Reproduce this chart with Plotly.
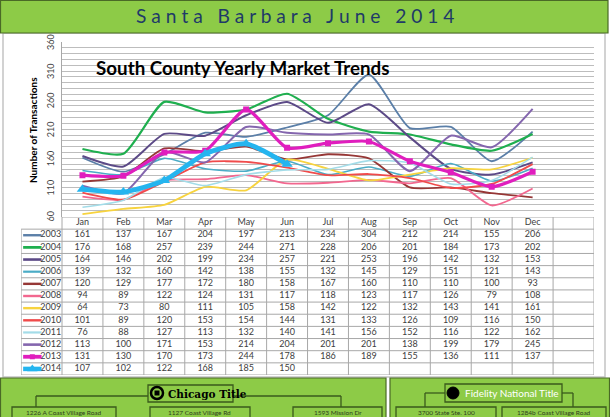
import plotly.graph_objects as go

W, H = 610, 417
def X(px): return px / W
def Y(py): return 1 - py / H

# ---------------- data ----------------
months = ["Jan", "Feb", "Mar", "Apr", "May", "Jun", "Jul", "Aug", "Sep", "Oct", "Nov", "Dec"]
years = ["2003", "2004", "2005", "2006", "2007", "2008", "2009", "2010", "2011", "2012", "2013", "2014"]
v2003 = [161, 137, 167, 204, 197, 213, 234, 304, 212, 214, 155, 206]
v2004 = [176, 168, 257, 239, 244, 271, 228, 206, 201, 184, 173, 202]
v2005 = [164, 146, 202, 199, 234, 257, 221, 253, 196, 142, 132, 153]
v2006 = [139, 132, 160, 142, 138, 155, 132, 145, 129, 151, 121, 143]
v2007 = [120, 129, 177, 172, 180, 158, 167, 160, 110, 110, 100, 93]
v2008 = [94, 89, 122, 124, 131, 117, 118, 123, 117, 126, 79, 108]
v2009 = [64, 73, 80, 111, 105, 158, 142, 122, 132, 143, 141, 161]
v2010 = [101, 89, 120, 153, 154, 144, 131, 133, 126, 109, 116, 150]
v2011 = [76, 88, 127, 113, 132, 140, 141, 156, 152, 116, 122, 162]
v2012 = [113, 100, 171, 153, 214, 204, 201, 201, 138, 199, 179, 245]
v2013 = [131, 130, 170, 173, 244, 178, 186, 189, 155, 136, 111, 137]
v2014 = [107, 102, 122, 168, 185, 150]
values = [v2003, v2004, v2005, v2006, v2007, v2008, v2009, v2010, v2011, v2012, v2013, v2014]
y_ticks = [60, 110, 160, 210, 260, 310, 360]
addresses_ct = ["1226 A Coast Village Road", "1127 Coast Village Rd", "1593 Mission Dr"]
addresses_fnt = ["3700 State Ste. 100", "1284b Coast Village Road"]

# ---------------- styles ----------------
style = {
    "2003": dict(color="#5B7FA8", width=1.8),
    "2004": dict(color="#1FAF4F", width=2.2),
    "2005": dict(color="#5C4A87", width=2.0),
    "2006": dict(color="#4BACC6", width=1.6),
    "2007": dict(color="#963736", width=1.8),
    "2008": dict(color="#F2678F", width=1.8),
    "2009": dict(color="#F7D33E", width=1.8),
    "2010": dict(color="#F04B4B", width=1.8),
    "2011": dict(color="#A3DCE8", width=1.6),
    "2012": dict(color="#8466AE", width=2.0),
    "2013": dict(color="#E01EBE", width=3.2),
    "2014": dict(color="#25B5EF", width=4.8),
}
markers = {"2013": dict(symbol="square", size=6), "2014": dict(symbol="triangle-up", size=10)}

GREEN = "#8DCB47"
DARKG = "#3A5A1C"
FONT = "Lato"

fig = go.Figure()

# ---------------- chart lines ----------------
for yr, vals in zip(years, values):
    st = style[yr]
    mk = markers.get(yr)
    fig.add_trace(go.Scatter(
        x=list(range(len(vals))), y=vals, xaxis="x", yaxis="y",
        mode="lines+markers" if mk else "lines",
        line=dict(color=st["color"], width=st["width"], shape="spline", smoothing=0.6),
        marker=dict(color=st["color"], **mk) if mk else None,
        showlegend=False, hoverinfo="skip"))

# ---------------- data table (text) ----------------
fig.add_trace(go.Scatter(
    x=list(range(len(months))), y=[0.5] * len(months), text=months, mode="text",
    textfont=dict(family=FONT, size=9, color="#404040"), xaxis="x2", yaxis="y2",
    showlegend=False, hoverinfo="skip"))
for i, (yr, vals) in enumerate(zip(years, values)):
    r = i + 1.5
    fig.add_trace(go.Scatter(
        x=list(range(len(vals))), y=[r] * len(vals), text=[str(v) for v in vals], mode="text",
        textfont=dict(family=FONT, size=9, color="#404040"), xaxis="x2", yaxis="y2",
        showlegend=False, hoverinfo="skip"))
    fig.add_trace(go.Scatter(
        x=[-0.52], y=[r], text=[yr], mode="text", textposition="middle left",
        textfont=dict(family=FONT, size=9, color="#404040"), xaxis="x2", yaxis="y2",
        showlegend=False, hoverinfo="skip"))
    st = style[yr]
    fig.add_trace(go.Scatter(
        x=[-1.45, -1.0], y=[r, r], mode="lines",
        line=dict(color=st["color"], width=min(st["width"] + 0.6, 4.5)),
        xaxis="x2", yaxis="y2", showlegend=False, hoverinfo="skip"))
    mk = markers.get(yr)
    if mk:
        fig.add_trace(go.Scatter(
            x=[-1.225], y=[r], mode="markers",
            marker=dict(color=st["color"], symbol=mk["symbol"], size=mk["size"] - 1),
            xaxis="x2", yaxis="y2", showlegend=False, hoverinfo="skip"))

shapes = []
# backgrounds
shapes.append(dict(type="rect", xref="paper", yref="paper", x0=X(3), x1=X(605), y0=Y(377), y1=Y(33),
                   fillcolor="white", line=dict(color="#C4C4C4", width=1.5), layer="below"))
shapes.append(dict(type="rect", xref="paper", yref="paper", x0=X(0.5), x1=X(608), y0=Y(33), y1=Y(0.5),
                   fillcolor=GREEN, line=dict(color="#4A6A26", width=1.2), layer="below"))
shapes.append(dict(type="rect", xref="paper", yref="paper", x0=X(0.5), x1=X(386), y0=Y(420), y1=Y(378),
                   fillcolor=GREEN, line=dict(color="#4A6A26", width=1.2), layer="below"))
shapes.append(dict(type="rect", xref="paper", yref="paper", x0=X(390), x1=X(609.5), y0=Y(420), y1=Y(378),
                   fillcolor=GREEN, line=dict(color="#4A6A26", width=1.2), layer="below"))

# table grid
GL = dict(color="#A8A8A8", width=1)
shapes.append(dict(type="line", xref="x2", yref="y2", x0=-0.5, x1=12.5, y0=0, y1=0, line=GL))
for k in range(1, 14):
    shapes.append(dict(type="line", xref="x2", yref="y2", x0=-1.5, x1=12.5, y0=k, y1=k, line=GL))
shapes.append(dict(type="line", xref="x2", yref="y2", x0=-1.5, x1=-1.5, y0=1, y1=13, line=GL))
for k in range(14):
    shapes.append(dict(type="line", xref="x2", yref="y2", x0=k - 0.5, x1=k - 0.5, y0=0, y1=13, line=GL))

# footer connectors and boxes
def pline(x0, y0, x1, y1, w=1.3):
    shapes.append(dict(type="line", xref="paper", yref="paper", x0=X(x0), x1=X(x1), y0=Y(y0), y1=Y(y1),
                       line=dict(color=DARKG, width=w)))
def pbox(x0, y0, x1, y1, w=1.3, fill="rgba(0,0,0,0)"):
    shapes.append(dict(type="rect", xref="paper", yref="paper", x0=X(x0), x1=X(x1), y0=Y(y1), y1=Y(y0),
                       line=dict(color=DARKG, width=w), fillcolor=fill))

pbox(148, 385, 233, 402)
pline(36, 396, 148, 396); pline(233, 396, 341, 396)
pline(36, 396, 36, 407); pline(341, 396, 341, 407)
ct_boxes = [(12, 116), (150, 250), (293, 382)]
for a, b in ct_boxes:
    pbox(a, 407, b, 425)
pbox(445, 384, 562, 402)
pline(425, 393, 445, 393); pline(562, 393, 573, 393)
pline(425, 393, 425, 407); pline(573, 393, 573, 407)
fnt_boxes = [(396, 496), (502, 606)]
for a, b in fnt_boxes:
    pbox(a, 407, b, 425)
# logos
shapes.append(dict(type="circle", xref="paper", yref="paper", x0=X(151), x1=X(163), y0=Y(399), y1=Y(387),
                   line=dict(color="black", width=2.5), fillcolor="rgba(0,0,0,0)"))
shapes.append(dict(type="rect", xref="paper", yref="paper", x0=X(154.5), x1=X(159.5), y0=Y(395.5), y1=Y(390.5),
                   line=dict(width=0), fillcolor="black"))
shapes.append(dict(type="circle", xref="paper", yref="paper", x0=X(447), x1=X(459), y0=Y(399), y1=Y(387),
                   line=dict(color="black", width=1), fillcolor="black"))

annotations = []
annotations.append(dict(xref="paper", yref="paper", x=X(295), y=Y(16), showarrow=False,
                        text="S a n t a   B a r b a r a   J u n e   2 0 1 4",
                        font=dict(family=FONT, size=19.2, color="#1F3A68"), xanchor="center", yanchor="middle"))
annotations.append(dict(xref="paper", yref="paper", x=X(94), y=Y(67), showarrow=False,
                        text="<b>South County Yearly Market Trends</b>",
                        font=dict(family=FONT, size=18.8, color="black"), xanchor="left", yanchor="middle"))
annotations.append(dict(xref="paper", yref="paper", x=X(33), y=Y(130), showarrow=False, textangle=-90,
                        text="<b>Number of Transactions</b>",
                        font=dict(family=FONT, size=10, color="black"), xanchor="center", yanchor="middle"))
for t in y_ticks:
    annotations.append(dict(xref="paper", yref="y", x=X(50), y=t, showarrow=False, textangle=-90,
                            text=str(t), font=dict(family=FONT, size=9, color="#404040"),
                            xanchor="center", yanchor="middle"))
annotations.append(dict(xref="paper", yref="paper", x=X(166), y=Y(393.5), showarrow=False,
                        text="<b>Chicago Title</b>",
                        font=dict(family="DejaVu Serif", size=10.5, color="black"), xanchor="left", yanchor="middle"))
annotations.append(dict(xref="paper", yref="paper", x=X(463), y=Y(393), showarrow=False,
                        text="Fidelity National Title",
                        font=dict(family=FONT, size=10, color="white"), xanchor="left", yanchor="middle"))
for (a, b), t in zip(ct_boxes + fnt_boxes, addresses_ct + addresses_fnt):
    annotations.append(dict(xref="paper", yref="paper", x=X((a + b) / 2), y=Y(412), showarrow=False,
                            text=t, font=dict(family=FONT, size=6.5, color="#2E3E1E"), borderpad=0,
                            xanchor="center", yanchor="middle"))

fig.update_layout(
    width=W, height=H, margin=dict(l=0, r=0, t=0, b=0),
    paper_bgcolor="white", plot_bgcolor="rgba(0,0,0,0)",
    shapes=shapes, annotations=annotations, showlegend=False,
    xaxis=dict(domain=[X(62), X(594)], range=[-0.5, 12.5], showticklabels=False, showgrid=False,
               zeroline=False, showline=False, anchor="y", fixedrange=True),
    yaxis=dict(domain=[Y(216.5), Y(42)], range=[60, 360], tickvals=y_ticks, showticklabels=False,
               showgrid=True, gridcolor="#BDBDBD", gridwidth=1,
               minor=dict(dtick=10, tick0=60, showgrid=True, gridcolor="#BDBDBD", gridwidth=1),
               showline=True, linecolor="#A8A8A8", linewidth=1, zeroline=False, ticks="",
               anchor="x", fixedrange=True),
    xaxis2=dict(domain=[X(21.08), X(594)], range=[-1.5, 12.5], visible=False, anchor="y2", fixedrange=True),
    yaxis2=dict(domain=[Y(375), Y(217)], range=[13, 0], visible=False, anchor="x2", fixedrange=True),
)

fig.write_html("out.html", config={"displayModeBar": False},
               post_script="document.body.style.margin='0px';document.body.style.overflow='hidden';")
